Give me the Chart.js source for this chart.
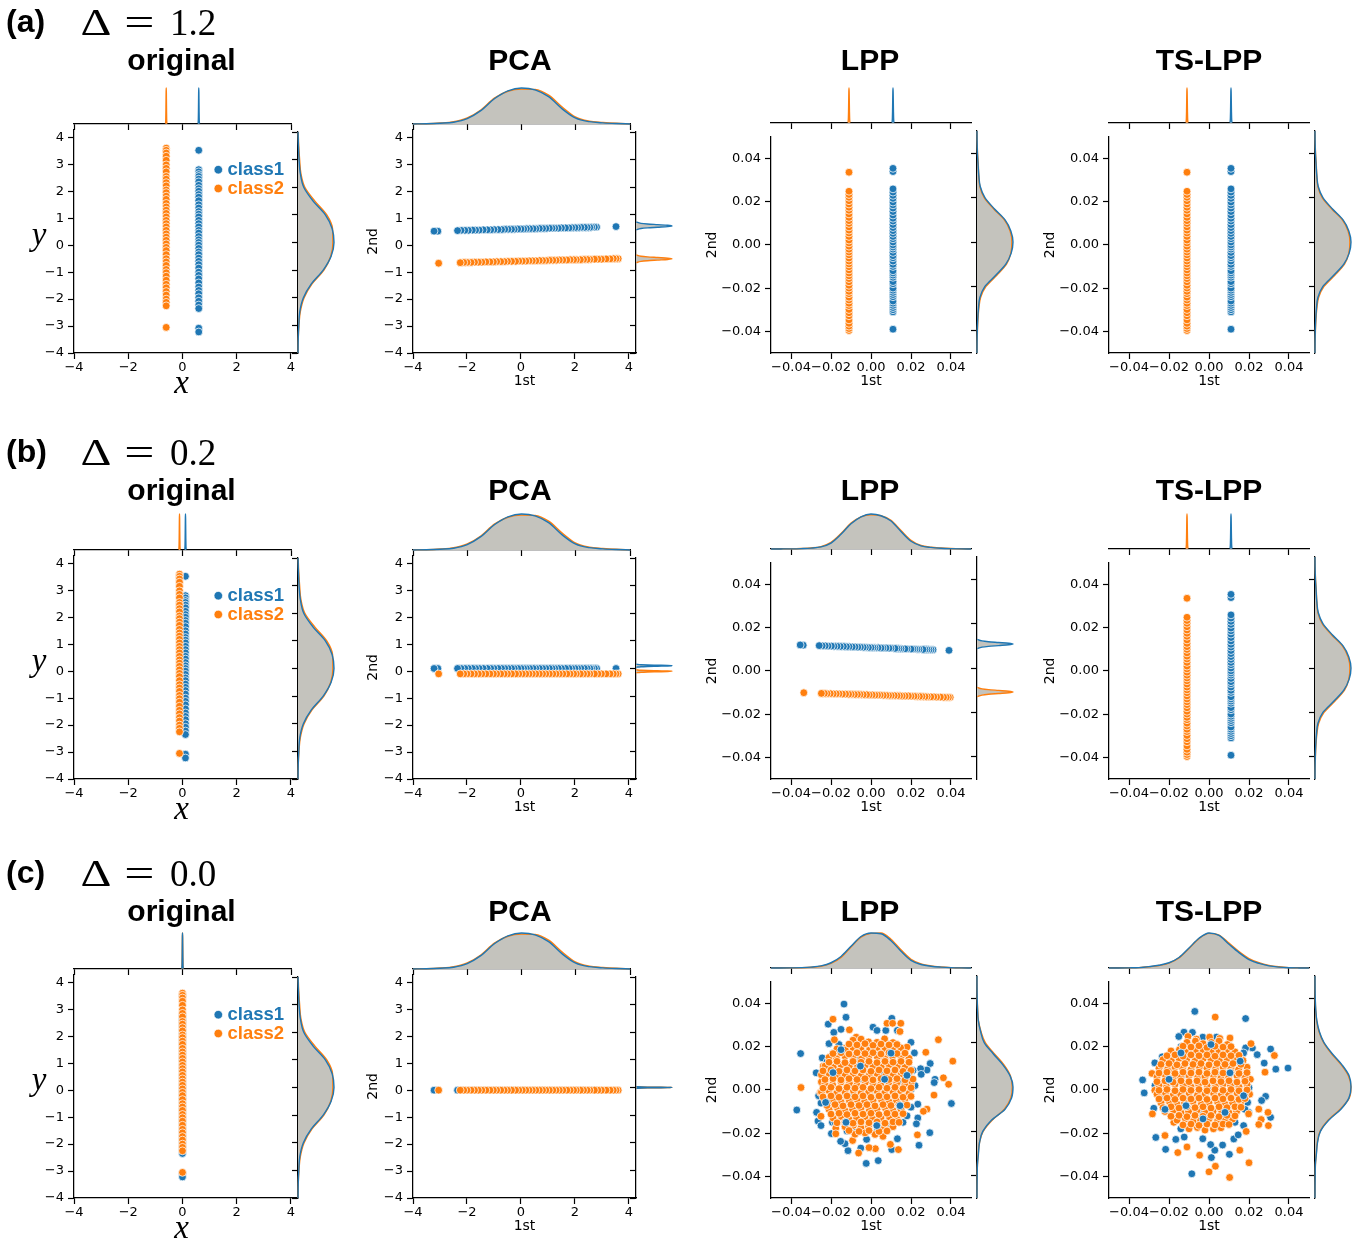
<!DOCTYPE html>
<html><head><meta charset="utf-8">
<script src="https://cdn.jsdelivr.net/npm/chart.js@4.4.1/dist/chart.umd.min.js"></script>
<style>
html,body{margin:0;padding:0;background:#fff}
body{width:1367px;height:1243px;position:relative;overflow:hidden}
canvas{position:absolute}
svg{position:absolute;left:0;top:0;pointer-events:none}
</style></head><body>
<script>
// ---------------- DATA ----------------
const rowIds = ['a','b','c'];
const deltaValues = ['1.2','0.2','0.0'];
const panelNames = ['original','PCA','LPP','TS-LPP'];
const classNames = ['class1','class2'];

const ticksOrigX = [-4,-2,0,2,4];
const ticksOrigY = [-4,-3,-2,-1,0,1,2,3,4];
const ticksLpp = [-0.04,-0.02,0,0.02,0.04];
const limOrigX = [-4,4.26];
const limOrigY = [-4,4.28];
const limLpp = [-0.05,0.05];

// original y coordinate of every sample (shared by all rows); PCA 1st component equals these
const c1Y = [3.52,2.8,2.72,2.62,2.55,2.45,2.35,2.22,2.1,2.0,1.88,1.78,1.65,1.5,1.38,1.25,1.15,1.05,0.92,0.8,0.68,0.55,0.45,0.32,0.2,0.1,0.0,-0.12,-0.25,-0.35,-0.48,-0.6,-0.72,-0.85,-1.0,-1.12,-1.25,-1.4,-1.55,-1.68,-1.8,-1.95,-2.08,-2.22,-2.35,-3.08,-3.22];
const c2Y = [3.6,3.52,3.42,3.3,3.15,2.98,2.85,2.72,2.55,2.45,2.32,2.2,2.05,1.95,1.82,1.7,1.55,1.42,1.3,1.18,1.05,0.92,0.8,0.68,0.55,0.42,0.3,0.18,0.05,-0.08,-0.2,-0.35,-0.5,-0.62,-0.75,-0.9,-1.02,-1.15,-1.3,-1.45,-1.58,-1.72,-1.85,-2.0,-2.12,-2.25,-3.05];
// original x of each class per row (class1, class2)
const origX = [[0.6,-0.6],[0.11,-0.11],[0,0]];

// PCA 2nd component, row (a)
const pcaA2nd_c1 = [0.69,0.67,0.67,0.67,0.66,0.66,0.66,0.66,0.65,0.65,0.65,0.64,0.64,0.64,0.63,0.63,0.63,0.63,0.62,0.62,0.62,0.61,0.61,0.61,0.61,0.6,0.6,0.6,0.59,0.59,0.59,0.59,0.58,0.58,0.58,0.57,0.57,0.57,0.56,0.56,0.56,0.55,0.55,0.55,0.54,0.52,0.52];
const pcaA2nd_c2 = [-0.5,-0.5,-0.5,-0.51,-0.51,-0.52,-0.52,-0.52,-0.53,-0.53,-0.53,-0.54,-0.54,-0.54,-0.54,-0.55,-0.55,-0.55,-0.56,-0.56,-0.56,-0.57,-0.57,-0.57,-0.58,-0.58,-0.58,-0.59,-0.59,-0.59,-0.6,-0.6,-0.6,-0.61,-0.61,-0.61,-0.62,-0.62,-0.62,-0.63,-0.63,-0.63,-0.64,-0.64,-0.64,-0.65,-0.67];
// PCA 2nd component level, rows (b), (c)
const pca2ndLevel = {b:[0.1,-0.1], c:[0,0]};

// LPP / TS-LPP vertical columns (rows a; TS-LPP rows a,b): 1st per class, 2nd per sample
const lppColX = [0.011,-0.011];
const lppCol_c1 = [-0.039,-0.031,-0.030,-0.029,-0.028,-0.027,-0.026,-0.024,-0.023,-0.022,-0.021,-0.020,-0.018,-0.017,-0.015,-0.014,-0.013,-0.012,-0.010,-0.009,-0.0075,-0.006,-0.005,-0.0035,-0.002,-0.001,0.0,0.0013,0.0028,0.0039,0.0053,0.0066,0.008,0.0094,0.011,0.0123,0.0138,0.0154,0.017,0.0185,0.0198,0.0215,0.0229,0.0244,0.0259,0.0339,0.0354];
const lppCol_c2 = [-0.0396,-0.0387,-0.0376,-0.0363,-0.0347,-0.0328,-0.0314,-0.0299,-0.0281,-0.027,-0.0255,-0.0242,-0.0226,-0.0215,-0.02,-0.0187,-0.0171,-0.0156,-0.0143,-0.013,-0.0116,-0.0101,-0.0088,-0.0075,-0.0061,-0.0046,-0.0033,-0.002,-0.0006,0.0009,0.0022,0.0039,0.0055,0.0068,0.0083,0.0099,0.0112,0.0127,0.0143,0.016,0.0174,0.0189,0.0204,0.022,0.0233,0.0248,0.0336];

// LPP row (b): horizontal rows
const lppB1st_c1 = [0.039,0.031,0.030,0.029,0.028,0.027,0.026,0.024,0.023,0.022,0.021,0.020,0.018,0.017,0.015,0.014,0.013,0.012,0.010,0.009,0.0075,0.006,0.005,0.0035,0.002,0.001,0.0,-0.0013,-0.0028,-0.0039,-0.0053,-0.0066,-0.008,-0.0094,-0.011,-0.0123,-0.0138,-0.0154,-0.017,-0.0185,-0.0198,-0.0215,-0.0229,-0.0244,-0.0259,-0.0339,-0.0354];
const lppB2nd_c1 = [0.0095,0.0098,0.0098,0.0098,0.0099,0.0099,0.0099,0.01,0.01,0.0101,0.0101,0.0101,0.0102,0.0102,0.0103,0.0103,0.0104,0.0104,0.0105,0.0105,0.0106,0.0106,0.0106,0.0107,0.0107,0.0108,0.0108,0.0108,0.0109,0.0109,0.011,0.011,0.0111,0.0111,0.0112,0.0112,0.0113,0.0113,0.0114,0.0114,0.0115,0.0115,0.0116,0.0116,0.0117,0.0119,0.012];
const lppB1st_c2 = [0.0396,0.0387,0.0376,0.0363,0.0347,0.0328,0.0314,0.0299,0.0281,0.027,0.0255,0.0242,0.0226,0.0215,0.02,0.0187,0.0171,0.0156,0.0143,0.013,0.0116,0.0101,0.0088,0.0075,0.0061,0.0046,0.0033,0.002,0.0006,-0.0009,-0.0022,-0.0039,-0.0055,-0.0068,-0.0083,-0.0099,-0.0112,-0.0127,-0.0143,-0.016,-0.0174,-0.0189,-0.0204,-0.022,-0.0233,-0.0248,-0.0336];
const lppB2nd_c2 = [-0.0122,-0.0122,-0.0122,-0.0122,-0.0121,-0.0121,-0.012,-0.012,-0.0119,-0.0119,-0.0118,-0.0118,-0.0118,-0.0117,-0.0117,-0.0116,-0.0116,-0.0116,-0.0115,-0.0115,-0.0114,-0.0114,-0.0114,-0.0113,-0.0113,-0.0112,-0.0112,-0.0112,-0.0111,-0.0111,-0.011,-0.011,-0.0109,-0.0109,-0.0109,-0.0108,-0.0108,-0.0107,-0.0107,-0.0106,-0.0106,-0.0106,-0.0105,-0.0105,-0.0104,-0.0104,-0.0101];

// LPP row (c) cloud [1st, 2nd]
const lppC_c1 = [[-0.0135,0.0397],[-0.0125,0.0336],[-0.0214,0.0304],[-0.0352,0.0168],[0.0104,0.0331],[0.001,0.029],[0.003,0.0275],[-0.015,0.028],[-0.0186,0.0266],[-0.021,0.0214],[0.0296,0.0122],[0.028,0.0092],[0.032,0.0049],[0.0316,0.0034],[0.0402,-0.0063],[-0.0371,-0.0093],[-0.0272,-0.0104],[-0.0265,-0.0144],[-0.025,-0.0165],[-0.025,-0.0061],[0.0234,-0.013],[0.0227,-0.0157],[0.0294,-0.0198],[0.024,-0.0256],[-0.0115,-0.0281],[-0.0024,-0.034],[0.0036,-0.0327],[-0.0051,-0.0269],[-0.0022,-0.0229],[0.0104,-0.0276],[-0.013,-0.0249],[-0.0152,-0.0238],[-0.0198,-0.0202],[0.0217,0.0171],[0.02,0.022],[0.0132,0.0275],[0.0074,0.0275],[0.009,0.0205],[0.0248,0.0098],[0.0251,0.0072],[0.02,0.0003],[0.0234,-0.0066],[-0.0142,0.0194],[-0.0244,0.0148],[-0.0274,0.0079],[-0.0224,0.0018],[-0.0262,-0.0027],[-0.0193,-0.015],[0.0029,-0.0195],[0.0097,-0.0165],[0.0132,-0.0226],[-0.0074,-0.0195],[-0.022,0.013],[-0.02,-0.005],[-0.016,0.021],[0.017,0.017],[0.021,0.009],[0.02,-0.008],[0.016,-0.015],[-0.018,-0.015],[-0.008,0.02],[0.009,0.021],[-0.012,-0.019],[0.005,-0.019],[-0.024,0.003],[0.022,0.002],[0,0],[-0.005,0.005],[0.005,0.008],[-0.01,-0.003],[0.008,-0.006],[-0.003,-0.012],[0.012,0.012],[-0.014,0.008],[0.014,0.004],[-0.006,0.014],[0.003,0.016],[-0.019,0.017],[0.018,-0.012],[-0.015,-0.01]];
// class1 samples of LPP (c) that lie over the class2 mass
const lppC_c1over = [[-0.015,0.0186],[-0.0053,0.011],[0.0068,0.0049],[0.018,0.0067],[0.0145,-0.0073],[-0.0227,-0.0058],[-0.0125,-0.015],[0.0029,-0.0165],[-0.019,0.008],[0.01,0.017]];
const lppC_c2 = [[-0.019,0.0327],[-0.0183,0.0232],[-0.0108,0.0278],[-0.0074,0.0244],[-0.0048,0.0232],[0.008,0.0308],[0.0108,0.0308],[0.0149,0.0308],[0.0145,0.027],[0.0337,0.0232],[0.0409,0.0133],[0.0388,0.0026],[0.0362,0.0056],[0.0315,-0.0024],[0.028,-0.0089],[0.0262,-0.0099],[0.0232,-0.0208],[0.0137,-0.0276],[0.0097,-0.0252],[0.006,-0.0215],[0.0022,-0.0272],[-0.001,-0.0267],[-0.0062,-0.0292],[-0.0092,-0.0234],[-0.0176,-0.0177],[-0.0176,-0.0203],[-0.025,-0.0122],[-0.035,0.0011],[-0.0239,0.011],[-0.0248,0.0037],[-0.0253,-0.0012],[0.018,0.0198],[0.0274,0.0174],[0.02,0.0031],[0.0183,-0.0031],[-0.0125,0.0194],[-0.0005,0.0202],[0.0038,0.0194],
[-0.009,0.023],[-0.005,0.0235],[-0.0012,0.0222],[0.003,0.022],[0.0068,0.0236],[0.011,0.0219],
[-0.017,0.019],[-0.0128,0.0185],[-0.009,0.0196],[-0.005,0.0188],[-0.0008,0.0184],[0.003,0.0196],[0.0072,0.019],[0.011,0.0184],[0.0148,0.0195],
[-0.021,0.015],[-0.0172,0.0145],[-0.013,0.0156],[-0.009,0.015],[-0.0048,0.0143],[-0.001,0.0155],[0.0032,0.015],[0.007,0.0144],[0.0108,0.0155],[0.015,0.015],[0.019,0.0146],
[-0.023,0.011],[-0.0188,0.0104],[-0.015,0.0116],[-0.0108,0.011],[-0.007,0.0104],[-0.0028,0.0115],[0.001,0.011],[0.0052,0.0104],[0.009,0.0116],[0.0132,0.011],[0.017,0.0105],
[-0.0248,0.007],[-0.021,0.0076],[-0.0168,0.0064],[-0.013,0.007],[-0.0088,0.0076],[-0.005,0.0065],[-0.0008,0.007],[0.003,0.0076],[0.0072,0.0064],[0.011,0.007],[0.0152,0.0075],[0.019,0.0066],
[-0.023,0.003],[-0.0192,0.0024],[-0.015,0.0036],[-0.0108,0.003],[-0.007,0.0024],[-0.0028,0.0035],[0.001,0.003],[0.0048,0.0024],[0.009,0.0036],[0.0128,0.003],[0.017,0.0025],
[-0.0248,-0.001],[-0.021,-0.0004],[-0.0172,-0.0016],[-0.013,-0.001],[-0.0088,-0.0004],[-0.005,-0.0016],[-0.0012,-0.001],[0.003,-0.0005],[0.0068,-0.0015],[0.011,-0.001],[0.0148,-0.0004],[0.019,-0.0016],
[-0.023,-0.005],[-0.0188,-0.0044],[-0.015,-0.0056],[-0.0108,-0.005],[-0.007,-0.0044],[-0.0032,-0.0055],[0.001,-0.005],[0.0052,-0.0045],[0.009,-0.0055],[0.0128,-0.005],[0.017,-0.0044],
[-0.021,-0.009],[-0.0168,-0.0084],[-0.013,-0.0096],[-0.0092,-0.009],[-0.005,-0.0084],[-0.0008,-0.0095],[0.003,-0.009],[0.0072,-0.0085],[0.011,-0.0096],[0.015,-0.009],
[-0.019,-0.013],[-0.0148,-0.0124],[-0.011,-0.0136],[-0.0072,-0.013],[-0.003,-0.0124],[0.0008,-0.0135],[0.005,-0.013],[0.0092,-0.0125],[0.013,-0.0136],
[-0.013,-0.017],[-0.0088,-0.0164],[-0.005,-0.0176],[-0.0012,-0.017],[0.003,-0.0164],[0.0068,-0.0175],[0.011,-0.017],
[-0.008,-0.0205],[-0.003,-0.0199],[0.002,-0.0206],
[-0.011,0.0212],[-0.007,0.0208],[-0.003,0.0214],[0.001,0.0206],[0.005,0.0212],[0.009,0.0208],[0.013,0.021],
[-0.019,0.0168],[-0.015,0.0172],[-0.011,0.0166],[-0.007,0.0172],[-0.003,0.0168],[0.001,0.0172],[0.005,0.0166],[0.009,0.0172],[0.013,0.0168],[0.017,0.017],
[-0.021,0.0128],[-0.017,0.0132],[-0.013,0.0126],[-0.009,0.0132],[-0.005,0.0128],[-0.001,0.0132],[0.003,0.0126],[0.007,0.0132],[0.011,0.0128],[0.015,0.0132],[0.019,0.0128],
[-0.024,0.0088],[-0.02,0.0092],[-0.016,0.0086],[-0.012,0.0092],[-0.008,0.0088],[-0.004,0.0092],[0,0.0086],[0.004,0.0092],[0.008,0.0088],[0.012,0.0092],[0.016,0.0086],[0.02,0.009],
[-0.023,0.0048],[-0.019,0.0052],[-0.015,0.0046],[-0.011,0.0052],[-0.007,0.0048],[-0.003,0.0052],[0.001,0.0046],[0.005,0.0052],[0.009,0.0048],[0.013,0.0052],[0.017,0.0046],[0.021,0.005],
[-0.024,0.0008],[-0.02,0.0012],[-0.016,0.0006],[-0.012,0.0012],[-0.008,0.0008],[-0.004,0.0012],[0,0.0006],[0.004,0.0012],[0.008,0.0008],[0.012,0.0012],[0.016,0.0006],[0.02,0.001],
[-0.024,-0.0032],[-0.02,-0.0028],[-0.016,-0.0034],[-0.012,-0.0028],[-0.008,-0.0032],[-0.004,-0.0028],[0,-0.0034],[0.004,-0.0028],[0.008,-0.0032],[0.012,-0.0028],[0.016,-0.0034],[0.02,-0.003],
[-0.022,-0.0072],[-0.018,-0.0068],[-0.014,-0.0074],[-0.01,-0.0068],[-0.006,-0.0072],[-0.002,-0.0068],[0.002,-0.0074],[0.006,-0.0068],[0.01,-0.0072],[0.014,-0.0068],[0.018,-0.007],
[-0.02,-0.0112],[-0.016,-0.0108],[-0.012,-0.0114],[-0.008,-0.0108],[-0.004,-0.0112],[0,-0.0108],[0.004,-0.0114],[0.008,-0.0108],[0.012,-0.0112],[0.016,-0.011],
[-0.017,-0.0152],[-0.013,-0.0148],[-0.009,-0.0154],[-0.005,-0.0148],[-0.001,-0.0152],[0.003,-0.0148],[0.007,-0.0154],[0.011,-0.0148],[0.014,-0.015],
[-0.011,-0.0188],[-0.006,-0.0192],[-0.001,-0.0188],[0.004,-0.0192],[0.008,-0.019]];

// TS-LPP row (c) cloud [1st, 2nd]
const tsC_c1 = [[-0.0071,0.0363],[0.0183,0.033],[-0.0332,0.0046],[-0.0324,-0.0014],[-0.0266,-0.022],[-0.0217,-0.0275],[-0.0086,-0.0388],[0.0012,-0.0313],[0.0102,-0.0298],[0.0068,-0.0255],[0.0029,-0.0279],[0.0308,0.0189],[0.0334,0.0096],[0.0395,0.0101],[0.0276,0.0124],[0.0217,0.0194],[0.0241,0.0163],[0.0183,0.0194],[0.0283,-0.003],[0.0263,-0.0049],[0.0308,-0.0127],[0.0124,-0.0227],[0.0146,-0.0208],[-0.0124,0.0156],[-0.0083,0.0266],[-0.0125,0.0267],[-0.0151,0.0247],[-0.0234,0.0153],[-0.0271,0.0125],[-0.0259,0.0031],[-0.0276,-0.0085],[-0.0166,-0.0229],[-0.0124,-0.0218],[-0.0141,-0.018],[-0.0031,-0.0226],[0.0008,-0.0253],[0.0173,-0.0165],[0.0198,-0.0104],[0.0193,-0.0058],[0.0173,0.0171],[0.0105,0.0202],[0.0037,0.0244],[-0.0031,0.0244],[-0.0217,0.0079],[-0.02,-0.0043],[0.0114,0.0159],
[-0.02,0.012],[-0.022,-0.004],[-0.014,0.02],[0.015,0.016],[0.019,0.008],[0.018,-0.009],[0.013,-0.015],[-0.019,-0.012],[-0.006,0.019],[0.007,0.02],[-0.01,-0.017],[0.004,-0.017],[-0.027,0.002],[0.02,0.001],[0,0],[-0.005,0.006],[0.006,0.007],[-0.01,-0.004],[0.007,-0.006],[-0.003,-0.011],[0.011,0.011],[-0.013,0.007],[0.013,0.003]];
// class1 samples of TS-LPP (c) that lie over the class2 mass
const tsC_c1over = [[-0.02,0.0049],[0.0105,0.0079],[0.0173,-0.0027],[-0.0115,-0.0073],[-0.003,-0.0134],[0.008,-0.0104],[-0.014,0.0171],[0.0156,0.0133],[-0.022,-0.009],[0.001,0.021]];
const tsC_c2 = [[0.0031,0.0337],[-0.0105,0.0247],[-0.0063,0.0235],[0.0003,0.0244],[0.0054,0.0238],[0.0105,0.024],[0.021,0.0214],[0.028,0.0082],[0.0327,0.0159],[-0.0285,0.0076],[-0.0271,-0.0002],[-0.0283,-0.0111],[-0.0222,-0.0089],[-0.022,-0.0211],[-0.0176,-0.015],[-0.0156,-0.029],[-0.011,-0.0264],[-0.0047,-0.0302],[0,-0.0379],[0.0032,-0.0353],[0.0103,-0.0405],[0.0154,-0.0279],[0.02,-0.0337],[0.0186,-0.0192],[0.0249,-0.0089],[0.0261,-0.0137],[0.0295,-0.0104],[0.0297,-0.0165],[0.0249,-0.016],[0.0198,-0.0111],[0.0203,-0.002],[0.0207,0.0049],[-0.018,0.0092],[-0.0254,-0.0024],
[-0.011,0.022],[-0.0068,0.0226],[-0.003,0.0214],[0.0012,0.022],[0.005,0.0226],[0.0092,0.021],
[-0.019,0.018],[-0.0148,0.0186],[-0.011,0.0174],[-0.0068,0.018],[-0.003,0.0186],[0.0012,0.0174],[0.005,0.018],[0.0088,0.0185],[0.013,0.0176],
[-0.023,0.014],[-0.0188,0.0134],[-0.015,0.0146],[-0.0112,0.014],[-0.007,0.0134],[-0.0028,0.0146],[0.001,0.014],[0.0052,0.0135],[0.009,0.0145],[0.0128,0.014],[0.017,0.0136],
[-0.025,0.01],[-0.0208,0.0094],[-0.017,0.0106],[-0.0132,0.01],[-0.009,0.0094],[-0.0048,0.0105],[-0.001,0.01],[0.0032,0.0095],[0.007,0.0106],[0.011,0.01],[0.0148,0.0094],[0.019,0.0105],
[-0.026,0.006],[-0.0218,0.0066],[-0.018,0.0054],[-0.0142,0.006],[-0.01,0.0066],[-0.0058,0.0055],[-0.002,0.006],[0.0022,0.0066],[0.006,0.0054],[0.0098,0.006],[0.014,0.0065],[0.018,0.0056],
[-0.025,0.002],[-0.0212,0.0014],[-0.017,0.0026],[-0.0128,0.002],[-0.009,0.0014],[-0.0052,0.0025],[-0.001,0.002],[0.0032,0.0015],[0.007,0.0026],[0.0108,0.002],[0.015,0.0014],[0.019,0.0025],
[-0.026,-0.002],[-0.0218,-0.0014],[-0.018,-0.0026],[-0.0142,-0.002],[-0.01,-0.0014],[-0.0058,-0.0025],[-0.002,-0.002],[0.0022,-0.0015],[0.006,-0.0026],[0.0098,-0.002],[0.014,-0.0014],[0.018,-0.0025],
[-0.024,-0.006],[-0.0198,-0.0054],[-0.016,-0.0066],[-0.0122,-0.006],[-0.008,-0.0054],[-0.0038,-0.0065],[0,-0.006],[0.0042,-0.0055],[0.008,-0.0066],[0.0118,-0.006],[0.016,-0.0054],
[-0.022,-0.01],[-0.0178,-0.0094],[-0.014,-0.0106],[-0.0102,-0.01],[-0.006,-0.0094],[-0.0018,-0.0105],[0.002,-0.01],[0.0062,-0.0095],[0.01,-0.0106],[0.0138,-0.01],
[-0.016,-0.014],[-0.0118,-0.0134],[-0.008,-0.0146],[-0.0042,-0.014],[0,-0.0134],[0.0042,-0.0145],[0.008,-0.014],[0.0118,-0.0135],
[-0.01,-0.018],[-0.0058,-0.0174],[-0.002,-0.0186],[0.0022,-0.018],[0.006,-0.0175],
[-0.013,0.0202],[-0.009,0.0198],[-0.005,0.0204],[-0.001,0.0196],[0.003,0.0202],[0.007,0.0198],[0.011,0.02],
[-0.021,0.0158],[-0.017,0.0162],[-0.013,0.0156],[-0.009,0.0162],[-0.005,0.0158],[-0.001,0.0162],[0.003,0.0156],[0.007,0.0162],[0.011,0.0158],[0.015,0.016],
[-0.024,0.0118],[-0.02,0.0122],[-0.016,0.0116],[-0.012,0.0122],[-0.008,0.0118],[-0.004,0.0122],[0,0.0116],[0.004,0.0122],[0.008,0.0118],[0.012,0.0122],[0.016,0.0118],
[-0.025,0.0078],[-0.021,0.0082],[-0.017,0.0076],[-0.013,0.0082],[-0.009,0.0078],[-0.005,0.0082],[-0.001,0.0076],[0.003,0.0082],[0.007,0.0078],[0.011,0.0082],[0.015,0.0076],[0.019,0.008],
[-0.026,0.0038],[-0.022,0.0042],[-0.018,0.0036],[-0.014,0.0042],[-0.01,0.0038],[-0.006,0.0042],[-0.002,0.0036],[0.002,0.0042],[0.006,0.0038],[0.01,0.0042],[0.014,0.0036],[0.018,0.004],
[-0.025,-0.0002],[-0.021,0.0002],[-0.017,-0.0004],[-0.013,0.0002],[-0.009,-0.0002],[-0.005,0.0002],[-0.001,-0.0004],[0.003,0.0002],[0.007,-0.0002],[0.011,0.0002],[0.015,-0.0004],[0.019,0],
[-0.025,-0.0042],[-0.021,-0.0038],[-0.017,-0.0044],[-0.013,-0.0038],[-0.009,-0.0042],[-0.005,-0.0038],[-0.001,-0.0044],[0.003,-0.0038],[0.007,-0.0042],[0.011,-0.0038],[0.015,-0.0044],[0.018,-0.004],
[-0.023,-0.0082],[-0.019,-0.0078],[-0.015,-0.0084],[-0.011,-0.0078],[-0.007,-0.0082],[-0.003,-0.0078],[0.001,-0.0084],[0.005,-0.0078],[0.009,-0.0082],[0.013,-0.0078],[0.016,-0.008],
[-0.019,-0.0122],[-0.015,-0.0118],[-0.011,-0.0124],[-0.007,-0.0118],[-0.003,-0.0122],[0.001,-0.0118],[0.005,-0.0124],[0.009,-0.0118],[0.013,-0.012],
[-0.013,-0.0162],[-0.009,-0.0158],[-0.005,-0.0164],[-0.001,-0.0158],[0.003,-0.0162],[0.007,-0.0158],[0.01,-0.016]];

// marginal KDE curves (density normalised to the tallest peak)
const kdePosOrig = [-4,-3.5,-3,-2.5,-2,-1.5,-1,-0.5,0,0.5,1,1.5,2,2.5,3,3.5,4];
const kdeOrigY_c1 = [0.001,0.006,0.022,0.05,0.15,0.37,0.7,0.92,1.0,0.95,0.76,0.42,0.16,0.065,0.03,0.012,0.002];
const kdeOrigY_c2 = [0.001,0.006,0.026,0.065,0.17,0.39,0.72,0.91,0.97,0.96,0.8,0.47,0.19,0.08,0.045,0.02,0.004];
const kdePosLpp = [-0.05,-0.045,-0.04,-0.035,-0.03,-0.025,-0.02,-0.015,-0.01,-0.005,0,0.005,0.01,0.015,0.02,0.025,0.03,0.035,0.04,0.045,0.05];
const kdeLppCol_c1 = [0,0.002,0.008,0.02,0.04,0.08,0.22,0.52,0.8,0.95,1.0,0.94,0.78,0.48,0.22,0.09,0.05,0.03,0.012,0.003,0];
const kdeLppCol_c2 = [0,0.003,0.012,0.025,0.05,0.1,0.25,0.55,0.82,0.94,0.97,0.92,0.76,0.46,0.2,0.08,0.05,0.035,0.015,0.004,0];
const kdeLppBTop_c1 = [0,0.002,0.005,0.012,0.025,0.06,0.17,0.42,0.72,0.92,1.0,0.95,0.8,0.5,0.22,0.09,0.045,0.022,0.01,0.003,0];
const kdeLppBTop_c2 = [0,0.002,0.006,0.015,0.03,0.07,0.19,0.44,0.74,0.92,0.98,0.95,0.82,0.53,0.25,0.1,0.05,0.028,0.014,0.005,0.001];
const kdeLppCTop_c1 = [0,0.001,0.004,0.01,0.025,0.06,0.15,0.33,0.62,0.9,1.0,0.98,0.78,0.48,0.22,0.1,0.05,0.025,0.01,0.003,0];
const kdeLppCTop_c2 = [0,0.001,0.003,0.008,0.02,0.05,0.13,0.3,0.6,0.88,0.99,1.0,0.82,0.52,0.25,0.12,0.06,0.03,0.012,0.004,0.001];
const kdeLppCRight_c1 = [0,0.001,0.005,0.012,0.04,0.07,0.16,0.4,0.78,0.96,1.0,0.92,0.72,0.45,0.2,0.1,0.035,0.015,0.005,0.001,0];
const kdeLppCRight_c2 = [0,0.001,0.004,0.012,0.035,0.07,0.17,0.42,0.76,0.94,0.98,0.93,0.75,0.48,0.23,0.11,0.04,0.018,0.006,0.002,0];
const kdeTsCTop_c1 = [0,0.001,0.005,0.012,0.04,0.08,0.15,0.3,0.57,0.85,1.0,0.93,0.68,0.44,0.24,0.13,0.06,0.025,0.008,0.002,0];
const kdeTsCTop_c2 = [0,0.001,0.004,0.01,0.035,0.07,0.14,0.29,0.56,0.84,0.99,0.94,0.71,0.47,0.27,0.15,0.075,0.035,0.012,0.003,0];
const kdeTsCRight_c1 = [0,0.001,0.005,0.01,0.04,0.07,0.15,0.38,0.72,0.94,1.0,0.95,0.75,0.48,0.25,0.12,0.05,0.02,0.007,0.002,0];
const kdeTsCRight_c2 = [0,0.002,0.006,0.012,0.035,0.065,0.14,0.36,0.7,0.95,1.0,0.93,0.73,0.46,0.24,0.11,0.045,0.018,0.006,0.002,0];

// degenerate (spike) marginals: centres per class [class1, class2] and read widths
const spikeOrigTop = [[0.6,-0.6],[0.11,-0.11],[0,0]];
const spikeOrigTopWidth = 0.008;
const spikePcaRight = [[0.6,-0.59],[0.1,-0.1],[0,0]];
const spikePcaRightWidth = [0.047,0.018,0.01];
const spikeLppTop = [0.011,-0.011];
const spikeLppTopWidth = 0.00015;
const spikeLppBRight = [0.0108,-0.0108];
const spikeLppBRightWidth = 0.0007;
const spikeProfile = [[-3,0.01],[-2,0.14],[-1.5,0.32],[-1,0.6],[-0.5,0.88],[0,1],[0.5,0.88],[1,0.6],[1.5,0.32],[2,0.14],[3,0.01]];

// ---------------- STYLE / LAYOUT ----------------
const BLUE = '#1f77b4', ORANGE = '#ff7f0e', KDEFILL = 'rgb(196,195,189)';
const AXDY = [0,426,845];     // vertical offset of axes per row
const TXDY = [0,430,851];     // vertical offset of row titles
const COLS = [{L:74,W:224},{L:413,W:223},{L:771,W:200},{L:1109,W:200}];
const TICKFONT = {family:'DejaVu Sans', size:13};
const TITLEFONT = {family:'DejaVu Sans', size:14};

const fmtInt = v => (v < 0 ? '\u2212' : '') + Math.abs(v);
const fmt2 = v => (Math.abs(v) < 1e-9 ? '0.00' : (v < 0 ? '\u2212' : '') + Math.abs(v).toFixed(2));

function mk(left, top, w, h) {
  const c = document.createElement('canvas');
  c.width = w; c.height = h;
  c.style.left = left + 'px'; c.style.top = top + 'px';
  c.style.width = w + 'px'; c.style.height = h + 'px';
  document.body.appendChild(c);
  return c;
}
const baseOpts = {responsive:false, maintainAspectRatio:false, animation:false, devicePixelRatio:1, events:[]};

function axis(pos, lim, ticks, fmt, size, title, titlePad, showLabels) {
  return {
    type:'linear', position:pos, min:lim[0], max:lim[1],
    afterBuildTicks: s => { s.ticks = ticks.map(v => ({value:v})); },
    afterFit: s => { if (pos === 'bottom') s.height = size; else s.width = size; },
    ticks: showLabels ? {autoSkip:false, maxRotation:0, minRotation:0, padding: pos==='bottom'?1:4, color:'#000',
             font:TICKFONT, callback: v => fmt(v)} : {display:false},
    grid: {display:true, drawOnChartArea:false, drawTicks:true, tickLength:6, tickWidth:1.2, tickColor:'#000'},
    border: {display:true, color:'#000', width:1.25},
    title: title ? {display:true, text:title, color:'#000', font:TITLEFONT, padding:titlePad} : {display:false}
  };
}

// Chart.js draws dataset 0 on top, so the class drawn last in the reference comes first
function mainChart(L, T, W, H, cfg) {
  const pl = 72, pr = 12, pt = 6, pb = 52;
  const cv = mk(L - pl, T - pt, W + pl + pr, H + pt + pb);
  const ds = (label, data, col) => ({label, data, backgroundColor:col, borderColor:'#fff', borderWidth:0.75, pointRadius:3.9, pointHoverRadius:3.9});
  const sets = [ds(classNames[1], cfg.c2, ORANGE), ds(classNames[0], cfg.c1, BLUE)];
  if (cfg.c1over) sets.unshift(ds(classNames[0], cfg.c1over, BLUE));
  new Chart(cv, {
    type:'scatter',
    data:{datasets:sets},
    options:Object.assign({}, baseOpts, {
      layout:{padding:{left:0, right:pr, top:pt, bottom:0}},
      plugins:{legend:{display:false}, tooltip:{enabled:false}},
      scales:{
        x: axis('bottom', cfg.xlim, cfg.xticks, cfg.fmt, pb, cfg.xTitle, {top:0, bottom:15.6}, true),
        y: axis('left', cfg.ylim, cfg.yticks, cfg.fmt, pl, cfg.yTitle, {top:cfg.yTitlePad || 0, bottom:0}, true)
      }
    })
  });
}

function curveDs(pts, color, smooth) {
  return {data:pts, borderColor:color, borderWidth:1.4, backgroundColor:KDEFILL, fill:'origin',
          pointRadius:0, cubicInterpolationMode: smooth ? 'monotone' : 'default', tension:0, clip:false};
}
// curves: [{pos:[], d:[], color, smooth}]
function topMarg(L, Wm, base, top, lim, ticks, curves) {
  const px = 3, pt = 3, ah = 8;
  const cv = mk(L - px, top - pt, Wm + 2*px, base - top + pt + ah);
  new Chart(cv, {
    type:'line',
    data:{datasets: curves.map(cu => curveDs(cu.pos.map((p,i) => ({x:p, y:cu.d[i]})), cu.color, cu.smooth))},
    options:Object.assign({}, baseOpts, {
      layout:{padding:{left:px, right:px, top:pt, bottom:0}},
      plugins:{legend:{display:false}, tooltip:{enabled:false}, filler:{drawTime:'beforeDatasetsDraw'}},
      scales:{
        x: axis('bottom', lim, ticks, null, ah, null, null, false),
        y: {type:'linear', display:false, min:0, max:1}
      }
    })
  });
}
function rightMarg(spine, top, bottom, lim, ticks, curves) {
  const aw = 8, pr = 3, pt = 3, pb = 3, Wm = 36;
  const cv = mk(spine - aw, top - pt, aw + Wm + pr, bottom - top + pt + pb);
  new Chart(cv, {
    type:'line',
    data:{datasets: curves.map(cu => curveDs(cu.pos.map((p,i) => ({x:cu.d[i], y:p})), cu.color, cu.smooth))},
    options:Object.assign({}, baseOpts, {
      indexAxis:'y',
      layout:{padding:{left:0, right:pr, top:pt, bottom:pb}},
      plugins:{legend:{display:false}, tooltip:{enabled:false}, filler:{drawTime:'beforeDatasetsDraw'}},
      scales:{
        y: axis('left', lim, ticks, null, aw, null, null, false),
        x: {type:'linear', display:false, min:0, max:1}
      }
    })
  });
}

function kdePair(pos, d1, d2) {   // blue (class1) first => drawn on top
  return [{pos, d:d1, color:BLUE, smooth:true}, {pos, d:d2, color:ORANGE, smooth:true}];
}
function spikePair(centres, width) {
  const one = (c, color) => ({pos: spikeProfile.map(s => c + s[0]*width), d: spikeProfile.map(s => s[1]), color, smooth:true});
  return [one(centres[0], BLUE), one(centres[1], ORANGE)];
}
const pts = (xs, ys) => xs.map((x,i) => ({x, y:ys[i]}));
const pairs = arr => arr.map(p => ({x:p[0], y:p[1]}));

// ---------------- BUILD ----------------
rowIds.forEach((r, ri) => {
  const dy = AXDY[ri];
  // original
  {
    const c = COLS[0];
    mainChart(c.L, 124+dy, c.W, 229, {
      c1: c1Y.map(y => ({x:origX[ri][0], y})), c2: c2Y.map(y => ({x:origX[ri][1], y})),
      xlim:limOrigX, ylim:limOrigY, xticks:ticksOrigX, yticks:ticksOrigY, fmt:fmtInt});
    topMarg(c.L, 217, 124+dy, 88+dy, [-4,4], ticksOrigX, spikePair(spikeOrigTop[ri], spikeOrigTopWidth));
    rightMarg(c.L + c.W, 132+dy, 353+dy, [-4,4], ticksOrigY, kdePair(kdePosOrig, kdeOrigY_c1, kdeOrigY_c2));
  }
  // PCA
  {
    const c = COLS[1];
    const y1 = ri === 0 ? pcaA2nd_c1 : c1Y.map(() => pca2ndLevel[r][0]);
    const y2 = ri === 0 ? pcaA2nd_c2 : c2Y.map(() => pca2ndLevel[r][1]);
    mainChart(c.L, 124+dy, c.W, 229, {
      c1: pts(c1Y, y1), c2: pts(c2Y, y2),
      xlim:limOrigX, ylim:limOrigY, xticks:ticksOrigX, yticks:ticksOrigY, fmt:fmtInt,
      xTitle:'1st', yTitle:'2nd', yTitlePad:24.1});
    topMarg(c.L, 217, 124+dy, 88+dy, [-4,4], ticksOrigX, kdePair(kdePosOrig, kdeOrigY_c1, kdeOrigY_c2));
    rightMarg(c.L + c.W, 132+dy, 353+dy, [-4,4], ticksOrigY, spikePair(spikePcaRight[ri], spikePcaRightWidth[ri]));
  }
  // LPP
  {
    const c = COLS[2];
    let c1, c2, c1over = null, topC, rightC;
    if (ri === 0) {
      c1 = lppCol_c1.map(y => ({x:lppColX[0], y})); c2 = lppCol_c2.map(y => ({x:lppColX[1], y}));
      topC = spikePair(spikeLppTop, spikeLppTopWidth);
      rightC = kdePair(kdePosLpp, kdeLppCol_c1, kdeLppCol_c2);
    } else if (ri === 1) {
      c1 = pts(lppB1st_c1, lppB2nd_c1); c2 = pts(lppB1st_c2, lppB2nd_c2);
      topC = kdePair(kdePosLpp, kdeLppBTop_c1, kdeLppBTop_c2);
      rightC = spikePair(spikeLppBRight, spikeLppBRightWidth);
    } else {
      c1 = pairs(lppC_c1); c2 = pairs(lppC_c2); c1over = pairs(lppC_c1over);
      topC = kdePair(kdePosLpp, kdeLppCTop_c1, kdeLppCTop_c2);
      rightC = kdePair(kdePosLpp, kdeLppCRight_c1, kdeLppCRight_c2);
    }
    mainChart(c.L, 131+dy, c.W, 222, {c1, c2, c1over, xlim:limLpp, ylim:limLpp, xticks:ticksLpp, yticks:ticksLpp, fmt:fmt2,
      xTitle:'1st', yTitle:'2nd', yTitlePad:5.1});
    topMarg(c.L, c.W, 123+dy, 88+dy, limLpp, ticksLpp, topC);
    rightMarg(c.L + c.W + 6, 131+dy, 353+dy, limLpp, ticksLpp, rightC);
  }
  // TS-LPP
  {
    const c = COLS[3];
    let c1, c2, c1over = null, topC, rightC;
    if (ri < 2) {
      c1 = lppCol_c1.map(y => ({x:lppColX[0], y})); c2 = lppCol_c2.map(y => ({x:lppColX[1], y}));
      topC = spikePair(spikeLppTop, spikeLppTopWidth);
      rightC = kdePair(kdePosLpp, kdeLppCol_c1, kdeLppCol_c2);
    } else {
      c1 = pairs(tsC_c1); c2 = pairs(tsC_c2); c1over = pairs(tsC_c1over);
      topC = kdePair(kdePosLpp, kdeTsCTop_c1, kdeTsCTop_c2);
      rightC = kdePair(kdePosLpp, kdeTsCRight_c1, kdeTsCRight_c2);
    }
    mainChart(c.L, 131+dy, c.W, 222, {c1, c2, c1over, xlim:limLpp, ylim:limLpp, xticks:ticksLpp, yticks:ticksLpp, fmt:fmt2,
      xTitle:'1st', yTitle:'2nd', yTitlePad:5.1});
    topMarg(c.L, c.W, 123+dy, 88+dy, limLpp, ticksLpp, topC);
    rightMarg(c.L + c.W + 6, 131+dy, 353+dy, limLpp, ticksLpp, rightC);
  }
});

// ---------------- TEXT (SVG overlay) ----------------
const NS = 'http://www.w3.org/2000/svg';
const svg = document.createElementNS(NS, 'svg');
svg.setAttribute('width', 1367); svg.setAttribute('height', 1243);
document.body.appendChild(svg);
function t(x, y, s, attrs) {
  const e = document.createElementNS(NS, 'text');
  e.setAttribute('x', x); e.setAttribute('y', y);
  for (const k in attrs) e.setAttribute(k, attrs[k]);
  e.textContent = s; svg.appendChild(e); return e;
}
function dot(cx, cy, col) {
  const e = document.createElementNS(NS, 'circle');
  e.setAttribute('cx', cx); e.setAttribute('cy', cy); e.setAttribute('r', 4.3);
  e.setAttribute('fill', col); e.setAttribute('stroke', '#fff'); e.setAttribute('stroke-width', 0.7);
  svg.appendChild(e);
}
const SANSB = {'font-family':'Liberation Sans, Arial, sans-serif', 'font-weight':'bold', fill:'#000'};
const SERIF = {'font-family':'Liberation Serif, Times New Roman, serif', fill:'#000'};
const titleX = [181.5, 520, 870, 1209];
rowIds.forEach((r, ri) => {
  const ty = TXDY[ri], ay = AXDY[ri];
  t(6, 31.5 + ty, '(' + r + ')', Object.assign({'font-size':32}, SANSB));
  t(96, 35 + ty, '\u0394', Object.assign({'font-size':37, 'text-anchor':'middle', transform:'translate(96 ' + (35+ty) + ') scale(1.3 1) translate(-96 ' + (-35-ty) + ')'}, SERIF));
  t(139.5, 35 + ty, '=', Object.assign({'font-size':37, 'text-anchor':'middle', transform:'translate(139.5 ' + (35+ty) + ') scale(1.45 1) translate(-139.5 ' + (-35-ty) + ')'}, SERIF));
  t(193, 35 + ty, deltaValues[ri], Object.assign({'font-size':37, 'text-anchor':'middle'}, SERIF));
  panelNames.forEach((n, ci) => t(titleX[ci], 70 + ty, n, Object.assign({'font-size':30, 'text-anchor':'middle'}, SANSB)));
  // legend
  dot(218.3, 169.7 + ay, BLUE); dot(218.3, 188.5 + ay, ORANGE);
  t(227.5, 174.5 + ay, classNames[0], {'font-family':'Liberation Sans, Arial, sans-serif', 'font-weight':'bold', 'font-size':18.5, fill:BLUE});
  t(227.5, 193.5 + ay, classNames[1], {'font-family':'Liberation Sans, Arial, sans-serif', 'font-weight':'bold', 'font-size':18.5, fill:ORANGE});
  // math axis labels of the original panel
  t(39, 245 + ay, 'y', Object.assign({'font-size':33, 'font-style':'italic', 'text-anchor':'middle'}, SERIF));
  t(181.5, 393 + ay, 'x', Object.assign({'font-size':33, 'font-style':'italic', 'text-anchor':'middle'}, SERIF));
});
</script>
</body></html>
